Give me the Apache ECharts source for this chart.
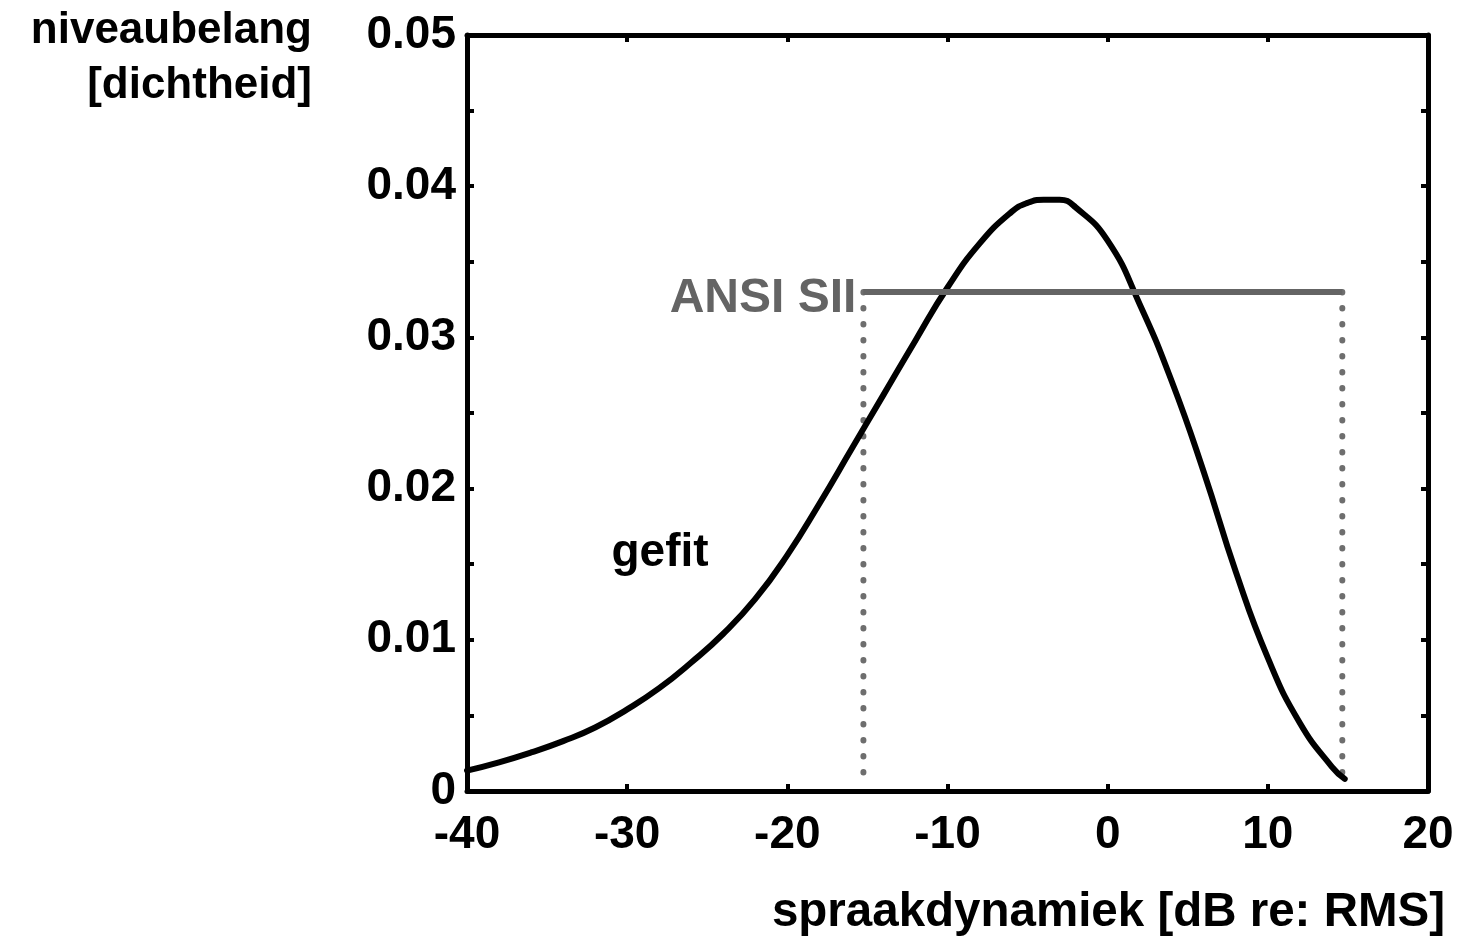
<!DOCTYPE html>
<html>
<head>
<meta charset="utf-8">
<script src="https://cdn.jsdelivr.net/npm/echarts@6/dist/echarts.min.js"></script>
<style>
html,body{margin:0;padding:0;background:#fff;}
#chart{width:1459px;height:937px;}
</style>
</head>
<body>
<div id="chart"></div>
<script>
// ---- data ----
const curveX = [-40, -38, -36, -34, -32, -30, -28, -26, -24, -22, -20, -18, -16, -14, -12, -10, -8, -6, -5, -4, -3, -2, 0, 2, 4, 6, 8, 10, 12, 14, 14.8];
const curveY = [0.00135, 0.0019, 0.00255, 0.0033, 0.0042, 0.0054, 0.0068, 0.0085, 0.0104, 0.0127, 0.0156, 0.0190, 0.0226, 0.0262, 0.0298, 0.0333, 0.0362, 0.0383, 0.0389, 0.0391, 0.0391, 0.0386, 0.0364, 0.0322, 0.0271, 0.0211, 0.0145, 0.0088, 0.0045, 0.0016, 0.0008];
const ansiRange = [-15.25, 14.65];
const ansiLevel = 0.033;
const ansiBottom = 0.0005;
const gefitPos = [-27.95, 0.01575];
const xTicks = [-40, -30, -20, -10, 0, 10, 20];
const yTickLabels = ['0', '0.01', '0.02', '0.03', '0.04', '0.05'];
const xTitle = 'spraakdynamiek [dB re: RMS]';
const yTitle = ['niveaubelang', '[dichtheid]'];

// ---- build ----
const FONT = 'Liberation Sans, Arial, Helvetica, sans-serif';
const FS = 46;
const curveData = curveX.map((x, i) => [x, curveY[i]]);

const axisLineStyle = { show: true, onZero: false, lineStyle: { color: '#000', width: 5 } };
const tickStyle = { show: true, inside: true, length: 7, lineStyle: { color: '#000', width: 4 } };

function yLabel(v) {
  const k = Math.round(v * 1000);
  if (k % 10 !== 0) return '';
  return yTickLabels[k / 10] || '';
}

const chart = echarts.init(document.getElementById('chart'), null, { renderer: 'canvas' });
chart.setOption({
  animation: false,
  backgroundColor: '#fff',
  grid: { left: 467, right: 31, top: 35, bottom: 146, containLabel: false },
  xAxis: [
    {
      type: 'value', min: xTicks[0], max: xTicks[xTicks.length - 1], interval: 10, position: 'bottom',
      axisLine: axisLineStyle, axisTick: tickStyle, splitLine: { show: false },
      axisLabel: { show: true, margin: 21, color: '#000', fontFamily: FONT, fontSize: FS, fontWeight: 'bold',
        showMinLabel: true, showMaxLabel: true, hideOverlap: false }
    },
    {
      type: 'value', min: xTicks[0], max: xTicks[xTicks.length - 1], interval: 10, position: 'top',
      axisLine: axisLineStyle, axisTick: tickStyle, splitLine: { show: false }, axisLabel: { show: false }
    }
  ],
  yAxis: [
    {
      type: 'value', min: 0, max: 0.05, interval: 0.005, position: 'left',
      axisLine: axisLineStyle, axisTick: tickStyle, splitLine: { show: false },
      axisLabel: { show: true, margin: 11, color: '#000', fontFamily: FONT, fontSize: FS, fontWeight: 'bold',
        formatter: yLabel, showMinLabel: true, showMaxLabel: true, hideOverlap: false }
    },
    {
      type: 'value', min: 0, max: 0.05, interval: 0.005, position: 'right',
      axisLine: axisLineStyle, axisTick: tickStyle, splitLine: { show: false }, axisLabel: { show: false }
    }
  ],
  series: [
    {
      type: 'line', name: 'ansiDots1', data: [[ansiRange[0], ansiLevel], [ansiRange[0], ansiBottom]],
      symbol: 'none', silent: true,
      lineStyle: { color: '#6e6e6e', width: 6, type: [0.5, 15.5], cap: 'round' }
    },
    {
      type: 'line', name: 'ansiDots2', data: [[ansiRange[1], ansiLevel], [ansiRange[1], ansiBottom]],
      symbol: 'none', silent: true,
      lineStyle: { color: '#6e6e6e', width: 6, type: [0.5, 15.5], cap: 'round' }
    },
    {
      type: 'line', name: 'gefit', data: curveData, symbol: 'none', smooth: 0.5, silent: true,
      lineStyle: { color: '#000', width: 6, join: 'round', cap: 'round' }
    },
    {
      type: 'line', name: 'ANSI SII', data: [[ansiRange[0], ansiLevel], [ansiRange[1], ansiLevel]],
      symbol: 'none', silent: true,
      lineStyle: { color: '#646464', width: 6 }
    },
    {
      type: 'scatter', name: 'labelAnsi', data: [[ansiRange[0], ansiLevel]], symbolSize: 0, silent: true,
      itemStyle: { opacity: 1 },
      label: { show: true, position: 'left', distance: 7, offset: [0, 7], formatter: 'ANSI SII',
        color: '#646464', fontFamily: FONT, fontSize: 48, fontWeight: 'bold' }
    },
    {
      type: 'scatter', name: 'labelGefit', data: [gefitPos], symbolSize: 0, silent: true,
      itemStyle: { opacity: 1 },
      label: { show: true, position: 'inside', formatter: 'gefit', textBorderWidth: 0,
        color: '#000', fontFamily: FONT, fontSize: FS, fontWeight: 'bold' }
    }
  ],
  graphic: [
    { type: 'text', right: 1459 - 1445, top: 889, silent: true,
      style: { text: xTitle, fill: '#000', font: 'bold 47.5px ' + FONT } },
    { type: 'text', x: 312, y: 31, silent: true,
      style: { text: yTitle[0], fill: '#000', font: 'bold 44px ' + FONT, textAlign: 'right', textVerticalAlign: 'middle' } },
    { type: 'text', x: 312, y: 86, silent: true,
      style: { text: yTitle[1], fill: '#000', font: 'bold 44px ' + FONT, textAlign: 'right', textVerticalAlign: 'middle' } }
  ]
});
</script>
</body>
</html>
